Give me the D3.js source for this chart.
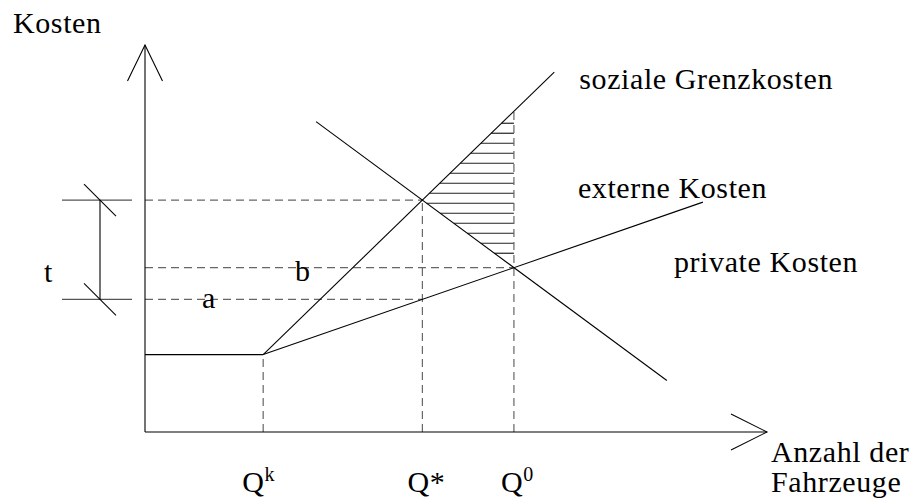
<!DOCTYPE html>
<html>
<head>
<meta charset="utf-8">
<script src="https://cdn.jsdelivr.net/npm/d3@7"></script>
<style>
  body { margin: 0; background: #fff; }
  text { font-family: "Liberation Serif", "Times New Roman", serif; fill: #000; letter-spacing: 0.6px; }
</style>
</head>
<body>
<div id="chart"></div>
<script>
// curve end points, in chart units (0..100 on both axes)
const flatCost = [[0, 20], [19, 20]];          // cost level before Q^k
const socialCost = [[19, 20], [65.8, 93]];      // soziale Grenzkosten
const privateCost = [[19, 20], [89.7, 59.4]];   // private Kosten
const demand = [[27.5, 80.2], [83.9, 13.3]];    // Nachfrage
const qk = 19;

// quantity labels: main letter + superscript
const qNames = ["Q", "Q", "Q"];
const qSups = ["k", "*", "0"];

// set the dimensions of the drawing
const width = 917, height = 500;

const svg = d3.select("#chart")
    .append("svg")
    .attr("width", width)
    .attr("height", height);

const x = d3.scaleLinear().domain([0, 100]).range([145, 767]);
const y = d3.scaleLinear().domain([0, 100]).range([432, 45]);

const line = d3.line().x(d => x(d[0])).y(d => y(d[1]));

// intersection of two straight lines given by two points each
function cross(a, b) {
    const m1 = (a[1][1] - a[0][1]) / (a[1][0] - a[0][0]);
    const m2 = (b[1][1] - b[0][1]) / (b[1][0] - b[0][0]);
    const xi = (b[0][1] - a[0][1] + m1 * a[0][0] - m2 * b[0][0]) / (m1 - m2);
    return [xi, a[0][1] + m1 * (xi - a[0][0])];
}
function valueAt(seg, xv) {
    const m = (seg[1][1] - seg[0][1]) / (seg[1][0] - seg[0][0]);
    return seg[0][1] + m * (xv - seg[0][0]);
}
function xAt(seg, yv) {
    const m = (seg[1][1] - seg[0][1]) / (seg[1][0] - seg[0][0]);
    return seg[0][0] + (yv - seg[0][1]) / m;
}

const qStar = cross(socialCost, demand);   // Q*
const qZero = cross(privateCost, demand);  // Q0
const privAtStar = valueAt(privateCost, qStar[0]);
const socialAtZero = valueAt(socialCost, qZero[0]);

const dash = "8,5";
const dashColor = "#666";

// hatched area between the curves, right of Q*
const hatchTop = y(socialAtZero) + 12, hatchBottom = y(qZero[1]) - 10;
const hatch = d3.range(hatchTop, hatchBottom, 10);
svg.append("g").selectAll("line")
    .data(hatch)
    .join("line")
    .attr("x1", py => {
        const yv = y.invert(py);
        return x(yv > qStar[1] ? xAt(socialCost, yv) : xAt(demand, yv));
    })
    .attr("x2", x(qZero[0]))
    .attr("y1", py => py)
    .attr("y2", py => py)
    .attr("stroke", "#222")
    .attr("stroke-width", 1.2);

// dashed helper lines
const helpers = [
    [[0, qStar[1]], [qStar[0], qStar[1]]],
    [[0, qZero[1]], [qZero[0], qZero[1]]],
    [[0, privAtStar], [qStar[0], privAtStar]],
    [[qk, 0], [qk, 20]],
    [[qStar[0], 0], [qStar[0], qStar[1]]],
    [[qZero[0], 0], [qZero[0], socialAtZero]]
];
svg.append("g").selectAll("path")
    .data(helpers)
    .join("path")
    .attr("d", line)
    .attr("fill", "none")
    .attr("stroke", dashColor)
    .attr("stroke-width", 1.2)
    .attr("stroke-dasharray", dash);

// the cost and demand curves
svg.append("g").selectAll("path")
    .data([flatCost, socialCost, privateCost, demand])
    .join("path")
    .attr("d", line)
    .attr("fill", "none")
    .attr("stroke", "#000")
    .attr("stroke-width", 1.1);

// axes with open arrow heads
const axes = svg.append("g").attr("stroke", "#000").attr("fill", "none").attr("stroke-width", 1.1);
axes.append("path").attr("d", `M${x(0)},${y(0)}V${y(100)}`);
axes.append("path").attr("d", `M${x(0)},${y(0)}H${x(100)}`);
axes.append("path").attr("d", `M${x(0) - 17.5},${y(100) + 36}L${x(0)},${y(100)}L${x(0) + 17.5},${y(100) + 36}`);
axes.append("path").attr("d", `M${x(100) - 36},${y(0) - 18}L${x(100)},${y(0)}L${x(100) - 36},${y(0) + 18}`);

// bracket for the tax t
const bx = x(0) - 45;
const br = svg.append("g").attr("fill", "none").attr("stroke-width", 1.1);
[qStar[1], privAtStar].forEach(v => {
    br.append("line").attr("x1", x(0) - 83).attr("x2", x(0) - 13)
        .attr("y1", y(v)).attr("y2", y(v)).attr("stroke", "#555");
    br.append("line").attr("x1", bx - 16).attr("x2", bx + 16)
        .attr("y1", y(v) - 16).attr("y2", y(v) + 16).attr("stroke", "#000");
});
br.append("line").attr("x1", bx).attr("x2", bx)
    .attr("y1", y(qStar[1])).attr("y2", y(privAtStar)).attr("stroke", "#000");

// texts
const fs = 30;
function label(tx, ty, s) {
    svg.append("text").attr("x", tx).attr("y", ty)
        .style("font-size", fs + "px").text(s);
}
label(13, 33, "Kosten");
label(x(socialCost[1][0]) + 25, y(socialCost[1][1]) + 17, "soziale Grenzkosten");
label(x(privateCost[1][0]) - 125, y(privateCost[1][1]) - 4, "externe Kosten");
label(x(privateCost[1][0]) - 29, y(privateCost[1][1]) + 70, "private Kosten");
label(771, 462, "Anzahl der");
label(771, 492, "Fahrzeuge");
label(44, 282, "t");
label(202, y(privAtStar) + 9, "a");
label(295, y(qZero[1]) + 13, "b");

// quantity labels under the x axis
const qPos = [qk, qStar[0], qZero[0]];
const qt = svg.append("g").selectAll("text")
    .data(qPos)
    .join("text")
    .attr("x", (d, i) => x(d) - (i === 0 ? 21 : i === 1 ? 15 : 13))
    .attr("y", 492)
    .style("font-size", fs + "px");
qt.append("tspan").text((d, i) => qNames[i]);
qt.append("tspan")
    .attr("dy", (d, i) => i === 1 ? 0 : -11)
    .style("font-size", (d, i) => i === 1 ? fs + "px" : "20px")
    .text((d, i) => qSups[i]);
</script>
</body>
</html>
